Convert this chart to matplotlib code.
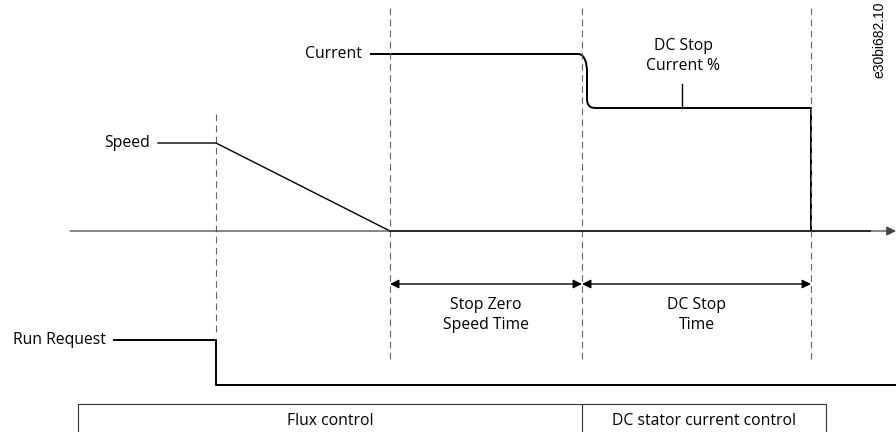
import matplotlib
matplotlib.use("Agg")
import matplotlib.pyplot as plt
from matplotlib.path import Path
from matplotlib.patches import PathPatch, Rectangle

# Timing diagram, drawn in image units (x = time, y = level, top is 0)
EVENTS = [216, 390, 582, 811]          # run off, zero speed, DC start, DC end
DASH_TOP = [114, 8, 8, 8]
DASH_BOTTOM = [334, 363, 363, 363]

AXIS_Y = 231
AXIS_START, AXIS_END = 70, 896
ZERO_END = 870

SPEED_LEVEL = 143
SPEED_START = 158

CURRENT_LEVEL = 54
CURRENT_START = 370
DC_LEVEL = 108

RUN_HIGH, RUN_LOW = 340, 385
RUN_START = 114

ARROW_Y = 284
BOX_LEFT, BOX_RIGHT, BOX_TOP, BOX_BOTTOM = 78, 826, 404, 440

FONT = "Open Sans"
FS = 11.3

fig = plt.figure(figsize=(8.96, 4.32), dpi=100)
ax = fig.add_axes([0, 0, 1, 1])
ax.set_xlim(0, 896)
ax.set_ylim(432, 0)
ax.axis("off")

# dashed event markers
for x, top, bot in zip(EVENTS, DASH_TOP, DASH_BOTTOM):
    ax.plot([x, x], [top, bot], color="#666666", lw=0.8, ls=(0, (6, 4)))

# time axis with arrow
ax.annotate("", xy=(AXIS_END, AXIS_Y), xytext=(AXIS_START, AXIS_Y),
            arrowprops=dict(arrowstyle="-|>", color="#444444", lw=0.9,
                            mutation_scale=14, shrinkA=0, shrinkB=0))
ax.plot([EVENTS[1], ZERO_END], [AXIS_Y, AXIS_Y], color="black", lw=1.4)

# speed
ax.plot([SPEED_START, EVENTS[0], EVENTS[1]],
        [SPEED_LEVEL, SPEED_LEVEL, AXIS_Y], color="black", lw=1.0)
ax.text(SPEED_START - 8, SPEED_LEVEL, "Speed", ha="right", va="center",
        fontsize=FS, family=FONT)

# current with rounded drop to DC level
x0 = EVENTS[2]
verts = [(CURRENT_START, CURRENT_LEVEL), (x0 - 4, CURRENT_LEVEL),
         (x0 + 3, CURRENT_LEVEL), (x0 + 5, CURRENT_LEVEL + 10), (x0 + 5, CURRENT_LEVEL + 18),
         (x0 + 5, DC_LEVEL - 10),
         (x0 + 5, DC_LEVEL), (x0 + 10, DC_LEVEL), (x0 + 16, DC_LEVEL),
         (EVENTS[3], DC_LEVEL), (EVENTS[3], AXIS_Y)]
codes = [Path.MOVETO, Path.LINETO,
         Path.CURVE4, Path.CURVE4, Path.CURVE4,
         Path.LINETO,
         Path.CURVE4, Path.CURVE4, Path.CURVE4,
         Path.LINETO, Path.LINETO]
ax.add_patch(PathPatch(Path(verts, codes), fill=False, color="black", lw=1.4,
                       capstyle="butt", joinstyle="miter"))
ax.text(CURRENT_START - 8, CURRENT_LEVEL, "Current", ha="right", va="center",
        fontsize=FS, family=FONT)
ax.plot([682, 682], [84, DC_LEVEL], color="black", lw=1.0)
ax.text(683, 56, "DC Stop\nCurrent %", ha="center", va="center",
        fontsize=FS, family=FONT, linespacing=1.35)

# run request
ax.plot([RUN_START, EVENTS[0], EVENTS[0], 896],
        [RUN_HIGH, RUN_HIGH, RUN_LOW, RUN_LOW], color="black", lw=1.4)
ax.text(RUN_START - 8, RUN_HIGH, "Run Request", ha="right", va="center",
        fontsize=FS, family=FONT)

# duration arrows
for a, b, label in [(EVENTS[1], EVENTS[2], "Stop Zero\nSpeed Time"),
                    (EVENTS[2], EVENTS[3], "DC Stop\nTime")]:
    ax.annotate("", xy=(b, ARROW_Y), xytext=(a, ARROW_Y),
                arrowprops=dict(arrowstyle="<|-|>", color="black", lw=1.0,
                                mutation_scale=13, shrinkA=0, shrinkB=0))
    ax.text((a + b) / 2, 315, label, ha="center", va="center",
            fontsize=FS, family=FONT, linespacing=1.35)

# control mode box
ax.add_patch(Rectangle((BOX_LEFT, BOX_TOP), BOX_RIGHT - BOX_LEFT, BOX_BOTTOM - BOX_TOP,
                       fill=False, edgecolor="#333333", lw=0.8))
ax.plot([EVENTS[2], EVENTS[2]], [BOX_TOP, BOX_BOTTOM], color="#333333", lw=0.8)
ax.text((BOX_LEFT + EVENTS[2]) / 2, 421, "Flux control", ha="center", va="center",
        fontsize=FS, family=FONT)
ax.text((EVENTS[2] + BOX_RIGHT) / 2, 421, "DC stator current control", ha="center",
        va="center", fontsize=FS, family=FONT)

# drawing id
ax.text(879, 40, "e30bi682.10", rotation=90, ha="center", va="center",
        fontsize=10, family="Liberation Sans")

fig.savefig("out.png", dpi=100)
